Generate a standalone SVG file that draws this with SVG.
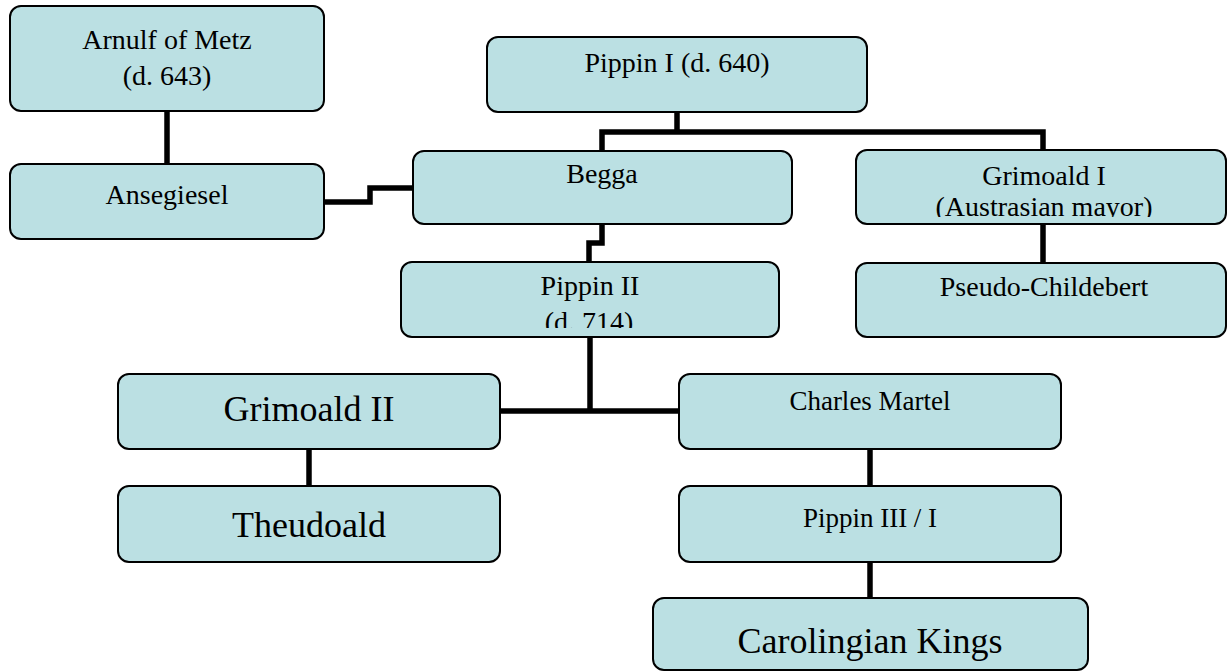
<svg xmlns="http://www.w3.org/2000/svg" width="1228" height="672" viewBox="0 0 1228 672">
<style>
.box{fill:#BBE0E3;stroke:#000;stroke-width:2}
.t{font-family:"Liberation Serif","Times New Roman",serif;font-size:28px;fill:#000;text-anchor:middle}
.s{font-size:27px}
.b{font-size:36px}
.c{fill:none;stroke:#000;stroke-width:5.5;stroke-linejoin:miter}
</style>
<defs>
<clipPath id="clipP2"><rect x="401" y="262" width="378" height="66"/></clipPath>
<clipPath id="clipG1"><rect x="856" y="150" width="370" height="67"/></clipPath>
</defs>
<rect width="1228" height="672" fill="#fff"/>
<g id="connectors">
<path class="c" d="M167 111V164"/>
<path class="c" d="M324 202H370V188H413"/>
<path class="c" d="M677 112V132M602 150V132H1043V150"/>
<path class="c" d="M602 224V243H589V262"/>
<path class="c" d="M1043 224V263"/>
<path class="c" d="M590 337V411M500 411H679"/>
<path class="c" d="M309 449V486"/>
<path class="c" d="M870 449V486"/>
<path class="c" d="M870 562V598"/>
</g>
<g id="arnulf"><rect class="box" x="10" y="6" width="314" height="105" rx="11"/><text class="t" x="167" y="49">Arnulf of Metz</text><text class="t" x="167" y="85">(d. 643)</text></g>
<g id="ansegiesel"><rect class="box" x="10" y="164" width="314" height="75" rx="11"/><text class="t" x="167" y="204">Ansegiesel</text></g>
<g id="pippin1"><rect class="box" x="487" y="37" width="380" height="75" rx="11"/><text class="t" x="677" y="72">Pippin I (d. 640)</text></g>
<g id="begga"><rect class="box" x="413" y="151" width="379" height="73" rx="11"/><text class="t" x="602" y="183">Begga</text></g>
<g id="grimoald1"><rect class="box" x="856" y="150" width="370" height="74" rx="11"/><text class="t" x="1044" y="185">Grimoald I</text><text class="t" x="1044" y="216" clip-path="url(#clipG1)">(Austrasian mayor)</text></g>
<g id="pippin2"><rect class="box" x="401" y="262" width="378" height="75" rx="11"/><text class="t" x="590" y="295">Pippin II</text><text class="t" x="589" y="331" clip-path="url(#clipP2)">(d. 714)</text></g>
<g id="pseudochildebert"><rect class="box" x="856" y="263" width="370" height="74" rx="11"/><text class="t" x="1044" y="296">Pseudo-Childebert</text></g>
<g id="grimoald2"><rect class="box" x="118" y="374" width="382" height="75" rx="11"/><text class="t b" x="309" y="421">Grimoald II</text></g>
<g id="charlesmartel"><rect class="box" x="679" y="374" width="382" height="75" rx="11"/><text class="t s" x="870" y="410">Charles Martel</text></g>
<g id="theudoald"><rect class="box" x="118" y="486" width="382" height="76" rx="11"/><text class="t b" x="309" y="537">Theudoald</text></g>
<g id="pippin3"><rect class="box" x="679" y="486" width="382" height="76" rx="11"/><text class="t s" x="870" y="527">Pippin III / I</text></g>
<g id="carolingian"><rect class="box" x="653" y="598" width="435" height="72" rx="11"/><text class="t b" x="870" y="653">Carolingian Kings</text></g>
</svg>
